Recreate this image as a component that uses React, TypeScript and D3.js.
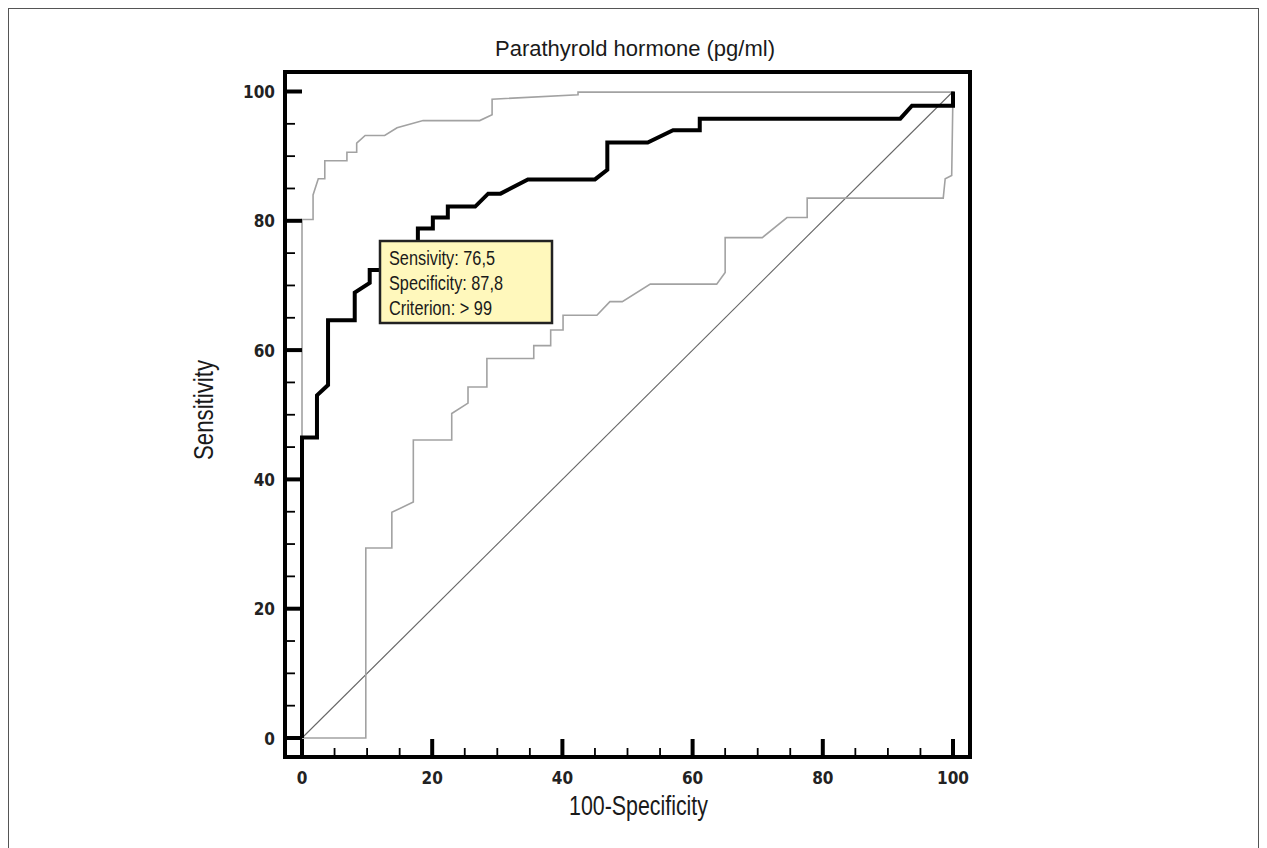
import React, { useEffect, useRef } from 'react';
import * as d3 from 'd3';

// [100-Specificity, Sensitivity]
const rocCurve: [number, number][] = [
  [0, 0], [0, 46.5], [2.3, 46.5], [2.3, 53], [4, 54.6], [4, 64.6], [8.1, 64.6],
  [8.1, 68.9], [10.4, 70.4], [10.4, 72.4], [12.2, 72.4], [12.2, 76.5], [17.8, 76.5],
  [17.8, 78.8], [20.1, 78.8], [20.1, 80.5], [22.4, 80.5], [22.4, 82.2], [26.6, 82.2],
  [28.6, 84.2], [30.5, 84.2], [34.7, 86.4], [45, 86.4], [46.9, 87.9], [46.9, 92.1],
  [53.1, 92.1], [57, 94], [61.1, 94], [61.1, 95.8], [91.9, 95.8], [93.7, 97.8],
  [100, 97.8], [100, 100],
];

const upperBound: [number, number][] = [
  [0, 0], [0, 80.2], [1.7, 80.2], [1.7, 84], [2.5, 86.5], [3.5, 86.5], [3.5, 89.3],
  [6.9, 89.3], [6.9, 90.6], [8.4, 90.6], [8.4, 92], [9.7, 93.2], [12.7, 93.2],
  [14.6, 94.4], [18.6, 95.5], [27.3, 95.5], [29.2, 96.4], [29.2, 98.8], [42.4, 99.5],
  [42.4, 99.9], [100, 99.9], [100, 100],
];

const lowerBound: [number, number][] = [
  [0, 0], [9.8, 0], [9.8, 29.4], [13.8, 29.4], [13.8, 34.9], [17.1, 36.5], [17.1, 46.1],
  [23, 46.1], [23, 50.2], [25.5, 51.8], [25.5, 54.3], [28.4, 54.3], [28.4, 58.7],
  [35.6, 58.7], [35.6, 60.7], [38.2, 60.7], [38.2, 63.1], [40.1, 63.1], [40.1, 65.4],
  [45.3, 65.4], [47.3, 67.5], [49.2, 67.5], [53.5, 70.2], [63.7, 70.2], [65, 72],
  [65, 77.4], [70.7, 77.4], [74.5, 80.5], [77.6, 80.5], [77.6, 83.5], [98.5, 83.5],
  [98.8, 86.5], [99.8, 87], [100, 100],
];

const chanceLine: [number, number][] = [[0, 0], [100, 100]];

const majorTicks = [0, 20, 40, 60, 80, 100];
const minorTicks = [5, 10, 15, 25, 30, 35, 45, 50, 55, 65, 70, 75, 85, 90, 95];

const title = 'Parathyrold hormone (pg/ml)';
const xTitle = '100-Specificity';
const yTitle = 'Sensitivity';
const tooltipLines = ['Sensivity: 76,5', 'Specificity: 87,8', 'Criterion: > 99'];
const tooltipWidths = [106, 114, 103];

export default function App() {
  const ref = useRef<SVGSVGElement>(null);

  useEffect(() => {
    const svg = d3.select(ref.current);
    svg.selectAll('*').remove();

    const x = d3.scaleLinear().domain([0, 100]).range([302, 953]);
    const y = d3.scaleLinear().domain([0, 100]).range([738, 91.5]);
    const frame = { left: 285, right: 970, top: 72, bottom: 757 };

    // outer border of the figure
    svg.append('rect')
      .attr('x', 8.5).attr('y', 8.5)
      .attr('width', 1250).attr('height', 870)
      .attr('fill', 'none').attr('stroke', '#555').attr('stroke-width', 1);

    svg.append('text')
      .attr('x', 635).attr('y', 56)
      .attr('text-anchor', 'middle')
      .attr('font-family', 'Liberation Sans, Arial, sans-serif')
      .attr('font-size', 22)
      .attr('fill', '#1a1a1a')
      .text(title);

    const line = d3.line<[number, number]>()
      .x(d => x(d[0]))
      .y(d => y(d[1]));

    const plot = svg.append('g');
    plot.append('path')
      .datum(chanceLine)
      .attr('d', line)
      .attr('fill', 'none').attr('stroke', '#666').attr('stroke-width', 1.1);
    plot.append('path')
      .datum(lowerBound)
      .attr('d', line)
      .attr('fill', 'none').attr('stroke', '#a2a2a2').attr('stroke-width', 1.6);
    plot.append('path')
      .datum(upperBound)
      .attr('d', line)
      .attr('fill', 'none').attr('stroke', '#a2a2a2').attr('stroke-width', 1.6);
    plot.append('path')
      .datum(rocCurve)
      .attr('d', line)
      .attr('fill', 'none').attr('stroke', '#000').attr('stroke-width', 4)
      .attr('stroke-linejoin', 'miter');

    // frame
    svg.append('rect')
      .attr('x', frame.left).attr('y', frame.top)
      .attr('width', frame.right - frame.left).attr('height', frame.bottom - frame.top)
      .attr('fill', 'none').attr('stroke', '#000').attr('stroke-width', 4);

    const axes = svg.append('g').attr('stroke', '#000');
    axes.selectAll('line.ymajor').data(majorTicks).enter().append('line')
      .attr('x1', frame.left).attr('x2', x(0))
      .attr('y1', d => y(d)).attr('y2', d => y(d))
      .attr('stroke-width', 4);
    axes.selectAll('line.yminor').data(minorTicks).enter().append('line')
      .attr('x1', frame.left).attr('x2', frame.left + 10)
      .attr('y1', d => y(d)).attr('y2', d => y(d))
      .attr('stroke-width', 1.8);
    axes.selectAll('line.xmajor').data(majorTicks).enter().append('line')
      .attr('x1', d => x(d)).attr('x2', d => x(d))
      .attr('y1', frame.bottom).attr('y2', y(0) + 1)
      .attr('stroke-width', 4);
    axes.selectAll('line.xminor').data(minorTicks).enter().append('line')
      .attr('x1', d => x(d)).attr('x2', d => x(d))
      .attr('y1', frame.bottom).attr('y2', frame.bottom - 9)
      .attr('stroke-width', 1.8);

    const tickFont = 'DejaVu Sans Condensed, DejaVu Sans, sans-serif';
    svg.append('g').selectAll('text').data(majorTicks).enter().append('text')
      .attr('x', 275).attr('y', d => y(d) + 6.5)
      .attr('text-anchor', 'end')
      .attr('font-family', tickFont).attr('font-weight', 'bold').attr('font-size', 17)
      .attr('fill', '#222')
      .text(d => d);
    svg.append('g').selectAll('text').data(majorTicks).enter().append('text')
      .attr('x', d => x(d)).attr('y', 784)
      .attr('text-anchor', 'middle')
      .attr('font-family', tickFont).attr('font-weight', 'bold').attr('font-size', 17)
      .attr('fill', '#222')
      .text(d => d);

    svg.append('text')
      .attr('x', 638.5).attr('y', 815)
      .attr('text-anchor', 'middle')
      .attr('font-family', 'Liberation Sans, Arial, sans-serif')
      .attr('font-size', 27)
      .attr('textLength', 139).attr('lengthAdjust', 'spacingAndGlyphs')
      .attr('fill', '#1a1a1a')
      .text(xTitle);

    svg.append('text')
      .attr('transform', 'translate(213,410) rotate(-90)')
      .attr('text-anchor', 'middle')
      .attr('font-family', 'Liberation Sans, Arial, sans-serif')
      .attr('font-size', 27)
      .attr('textLength', 100).attr('lengthAdjust', 'spacingAndGlyphs')
      .attr('fill', '#1a1a1a')
      .text(yTitle);

    // criterion box
    const tip = svg.append('g');
    tip.append('rect')
      .attr('x', 380).attr('y', 241)
      .attr('width', 172).attr('height', 82)
      .attr('fill', '#fff8bc').attr('stroke', '#222').attr('stroke-width', 2.5);
    tip.selectAll('text').data(tooltipLines).enter().append('text')
      .attr('x', 389).attr('y', (d, i) => 265 + i * 25)
      .attr('font-family', 'Liberation Sans, Arial, sans-serif')
      .attr('font-size', 20)
      .attr('textLength', (d, i) => tooltipWidths[i]).attr('lengthAdjust', 'spacingAndGlyphs')
      .attr('fill', '#1a1a1a')
      .text(d => d);
  }, []);

  return (
    <svg
      ref={ref}
      width={1267}
      height={848}
      style={{ position: 'absolute', left: 0, top: 0, display: 'block', background: '#fff' }}
    />
  );
}
